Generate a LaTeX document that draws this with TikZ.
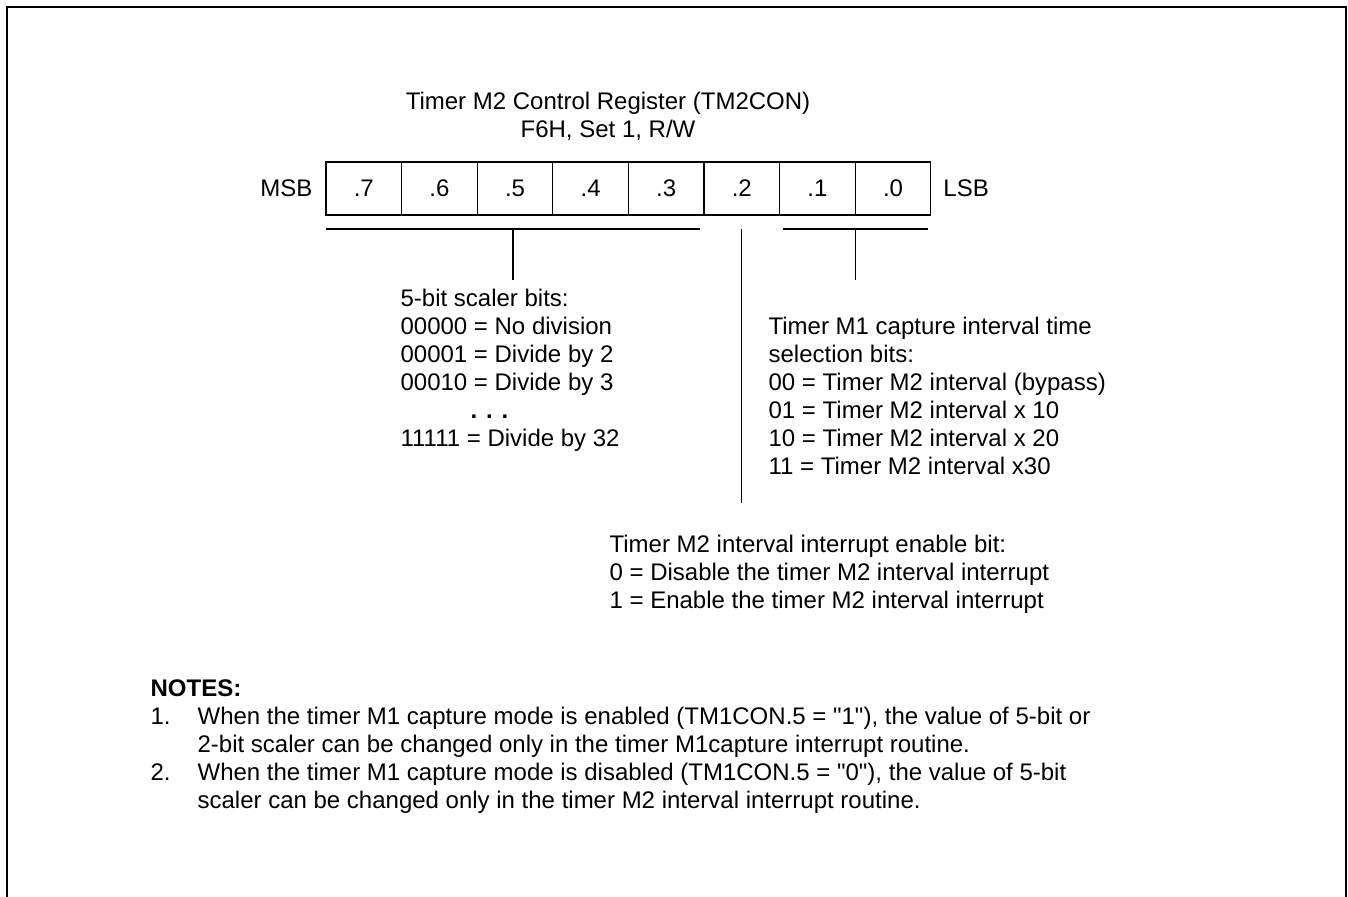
\documentclass[tikz,border=0pt]{standalone}
\usepackage{fontspec}
\setmainfont{Liberation Sans}[Ligatures=TeXOff]
\usetikzlibrary{positioning, calc}

\begin{document}
\begin{tikzpicture}[
    x=0.5pt, y=-0.5pt,
    font=\fontsize{12}{14}\selectfont,
    line width=0.6pt,
    % Register bit cell
    bitcell/.style={
        draw=black,
        rectangle,
        minimum width=37.8pt,
        minimum height=26.5pt,
        inner sep=0pt,
        outer sep=0pt
    },
    % Plain text blocks (anchored on the last baseline)
    plain_txt/.style={
        inner sep=0pt,
        align=left,
        anchor=base west
    },
    frame_line/.style={line width=1pt}
]
    \useasboundingbox (0,0) rectangle (1348,896);

    % ==========================================
    % 1. PAGE FRAME & TITLE
    % ==========================================

    \draw [frame_line] (7,900) -- (7,7) -- (1346,7) -- (1346,900);

    \node (title) [inner sep=0pt, align=center, anchor=base] at (608,137) {
        Timer M2 Control Register (TM2CON)\\
        F6H, Set 1, R/W
    };

    % ==========================================
    % 2. REGISTER BITS
    % ==========================================

    \node (b7) [bitcell] at (363.8,188.5) {.7};
    \node (b6) [bitcell, right=0pt of b7] {.6};
    \node (b5) [bitcell, right=0pt of b6] {.5};
    \node (b4) [bitcell, right=0pt of b5] {.4};
    \node (b3) [bitcell, right=0pt of b4] {.3};
    \node (b2) [bitcell, right=0pt of b3] {.2};
    \node (b1) [bitcell, right=0pt of b2] {.1};
    \node (b0) [bitcell, right=0pt of b1] {.0};

    \node (msb) [inner sep=0pt, left=6.5pt of b7] {MSB};
    \node (lsb) [inner sep=0pt, right=6pt of b0] {LSB};

    % ==========================================
    % 3. BIT FIELD BRACKETS
    % ==========================================

    % 5-bit scaler (.7 -- .3)
    \coordinate (scaler_l) at ($(b7.south west)+(0,14)$);
    \coordinate (scaler_r) at ($(b3.south east)+(-4,14)$);
    \coordinate (scaler_m) at ($(scaler_l)!0.5!(scaler_r)$);
    \coordinate (scaler_end) at ($(scaler_m)+(0,51)$);
    \draw (scaler_l) -- (scaler_r);
    \draw (scaler_m) -- (scaler_end);

    % Interrupt enable (.2)
    \coordinate (enable_top) at ($(b2.south)+(0,14)$);
    \coordinate (enable_end) at ($(b2.south)+(0,288)$);
    \draw (enable_top) -- (enable_end);

    % Capture interval selection (.1 -- .0)
    \coordinate (capture_l) at ($(b1.south west)+(3,14)$);
    \coordinate (capture_r) at ($(b0.south east)+(-3,14)$);
    \coordinate (capture_m) at ($(capture_l)!0.5!(capture_r)$);
    \coordinate (capture_end) at ($(capture_m)+(0,51)$);
    \draw (capture_l) -- (capture_r);
    \draw (capture_m) -- (capture_end);

    % ==========================================
    % 4. BIT DESCRIPTIONS
    % ==========================================

    \node (scaler_txt) [plain_txt] at (400,446) {
        5-bit scaler bits:\\
        00000 = No division\\
        00001 = Divide by 2\\
        00010 = Divide by 3\\
        \hspace*{35pt}\textbf{. . .}\\
        11111 = Divide by 32
    };

    \node (capture_txt) [plain_txt] at (768,474) {
        Timer M1 capture interval time\\
        selection bits:\\
        00 = Timer M2 interval (bypass)\\
        01 = Timer M2 interval x 10\\
        10 = Timer M2 interval x 20\\
        11 = Timer M2 interval x30
    };

    \node (enable_txt) [plain_txt] at (609,608) {
        Timer M2 interval interrupt enable bit:\\
        0 = Disable the timer M2 interval interrupt\\
        1 = Enable the timer M2 interval interrupt
    };

    % ==========================================
    % 5. NOTES
    % ==========================================

    \node (notes) [plain_txt] at (150,696) {\textbf{NOTES:}};
    \node (note1_num) [plain_txt] at (150,724) {1.};
    \node (note1_txt) [plain_txt] at (197,752) {
        When the timer M1 capture mode is enabled (TM1CON.5 = "1"), the value of 5-bit or\\
        2-bit scaler can be changed only in the timer M1capture interrupt routine.
    };
    \node (note2_num) [plain_txt] at (150,780) {2.};
    \node (note2_txt) [plain_txt] at (197,808) {
        When the timer M1 capture mode is disabled (TM1CON.5 = "0"), the value of 5-bit\\
        scaler can be changed only in the timer M2 interval interrupt routine.
    };

\end{tikzpicture}
\end{document}
